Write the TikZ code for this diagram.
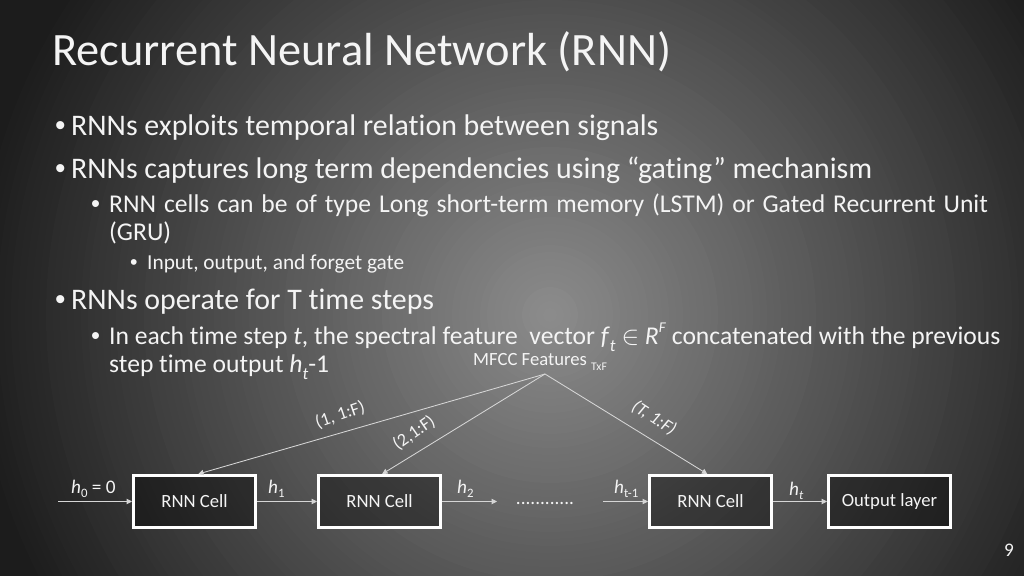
\documentclass[tikz,border=0pt]{standalone}
\usepackage{fontspec}
\setmainfont{Carlito}[Ligatures=NoCommon]
\newfontfamily\arialfont{Liberation Sans}
\usetikzlibrary{arrows.meta}
\definecolor{bgc}{HTML}{8C8C8C}
\definecolor{bge}{HTML}{1C1C1C}
\definecolor{txt}{HTML}{F4F4F4}
\definecolor{conn}{HTML}{D6D6D6}
\tikzset{
  bodytext/.style={anchor=base west, text=txt, inner sep=0pt},
  bul/.style={anchor=base west, text=txt, inner sep=0pt},
  cell/.style={draw=white, line width=2.8pt, fill=black, fill opacity=0.4, text opacity=1, text=txt,
    minimum width=114.4pt, minimum height=48.75pt, inner sep=0pt, font=\fontsize{17.5}{19}\selectfont},
  conn/.style={draw=conn, line width=0.8pt, -{Triangle[length=5pt,width=5pt]}},
  lbl/.style={text=txt, inner sep=0pt, font=\fontsize{18}{20}\selectfont},
  flbl/.style={text=txt, inner sep=0pt, font=\fontsize{17}{19}\selectfont},
}
\begin{document}
\begin{tikzpicture}[x=0.9375pt, y=-0.9375pt]
\useasboundingbox (0,0) rectangle (1024,576);
\begin{scope}
\clip (0,0) rectangle (1024,576);
\fill[bge] (0,0) rectangle (1024,576);
\foreach \i in {0,...,99} {
  \pgfmathsetmacro\r{700-7*\i}
  \pgfmathtruncatemacro\p{min(100,100*(\r/580))}
  \fill[color=bge!\p!bgc] (550,315) circle[radius=\r*0.9375pt];
}
\end{scope}
% title
\node[bodytext, font=\fontsize{43.5}{48}\selectfont] (title) at (52,66) {Recurrent Neural Network (RNN)};
% bullets
\node[bul, font=\arialfont\fontsize{28}{30}\selectfont] (b1d) at (55,136) {•};
\node[bodytext, font=\fontsize{28}{30}\selectfont] (b1) at (71,136) {RNNs exploits temporal relation between signals};
\node[bul, font=\arialfont\fontsize{28}{30}\selectfont] (b2d) at (55,178) {•};
\node[bodytext, font=\fontsize{28}{30}\selectfont] (b2) at (71,178) {RNNs captures long term dependencies using “gating” mechanism};
\node[bul, font=\arialfont\fontsize{24}{26}\selectfont] (b21d) at (91,212) {•};
\node[bodytext, font=\fontsize{24}{26}\selectfont] (b21) at (109,212) {\spaceskip=7.4pt RNN cells can be of type Long short-term memory (LSTM) or Gated Recurrent Unit};
\node[bodytext, font=\fontsize{24}{26}\selectfont] (b21b) at (109,240) {(GRU)};
\node[bul, font=\arialfont\fontsize{20}{22}\selectfont] (b211d) at (130,269) {•};
\node[bodytext, font=\fontsize{20}{22}\selectfont] (b211) at (147,269) {Input, output, and forget gate};
\node[bul, font=\arialfont\fontsize{28}{30}\selectfont] (b3d) at (55,309) {•};
\node[bodytext, font=\fontsize{28}{30}\selectfont] (b3) at (71,309) {RNNs operate for T time steps};
\node[bul, font=\arialfont\fontsize{24}{26}\selectfont] (b31d) at (91,344) {•};
\node[bodytext, font=\fontsize{24}{26}\selectfont] (b31) at (109,344) {In each time step \textit{t}, the spectral feature\ \ vector \textit{f}\raisebox{-0.28em}{\fontsize{16}{16}\selectfont\textit{t}} $\in$ \textit{R}\raisebox{0.45em}{\fontsize{14}{14}\selectfont\textit{F}} concatenated with the previous};
\node[bodytext, font=\fontsize{24}{26}\selectfont] (b31b) at (109,372) {step time output \textit{h}\raisebox{-0.28em}{\fontsize{16}{16}\selectfont\textit{t}}-1};
% diagram
\node[bodytext, font=\fontsize{17.5}{19}\selectfont] (mfcc) at (473,365) {MFCC Features \raisebox{-0.3em}{\fontsize{11}{11}\selectfont TxF}};
\coordinate (apex) at (545,374);
\node[cell] (c1) at (194.5,501.5) {RNN Cell};
\node[cell] (c2) at (379.5,501.5) {RNN Cell};
\node[cell] (c3) at (710.5,501.5) {RNN Cell};
\node[cell] (out) at (889.5,501.5) {Output layer};
\draw[conn] (apex) -- ([xshift=3.5pt]c1.north);
\draw[conn] (apex) -- ([xshift=2.5pt]c2.north);
\draw[conn] (apex) -- ([xshift=-3pt]c3.north);
\node[flbl, rotate=19] (l1) at (340,415) {(1, 1:F)};
\node[flbl, rotate=35] (l2) at (414,433) {(2,1:F)};
\node[flbl, rotate=-33] (l3) at (654,418) {\textit{(T, 1:F)}};
\coordinate (h0s) at (58,501.5);
\coordinate (h2e) at (497,501.5);
\coordinate (hts) at (603,501.5);
\draw[conn] (h0s) -- (c1.west);
\draw[conn] (c1.east) -- (c2.west);
\draw[conn] (c2.east) -- (h2e);
\draw[conn] (hts) -- (c3.west);
\draw[conn] (c3.east) -- (out.west);
\node[lbl, anchor=base west] (h0) at (71,493) {\textit{h}\raisebox{-0.25em}{\fontsize{12}{12}\selectfont 0} = 0};
\node[lbl, anchor=base west] (h1) at (268,493) {\textit{h}\raisebox{-0.25em}{\fontsize{12}{12}\selectfont 1}};
\node[lbl, anchor=base west] (h2) at (457,493) {\textit{h}\raisebox{-0.25em}{\fontsize{12}{12}\selectfont 2}};
\node[lbl, anchor=base west] (htm) at (614,493) {\textit{h}\raisebox{-0.25em}{\fontsize{12}{12}\selectfont t-1}};
\node[lbl, anchor=base west] (ht) at (789,495) {\textit{h}\raisebox{-0.25em}{\fontsize{12}{12}\selectfont\textit{t}}};
\node[lbl, anchor=base] (dots) at (545,504) {............};
% page number
\node[bodytext, font=\fontsize{18}{20}\selectfont] (pg) at (1004,556) {9};
\end{tikzpicture}
\end{document}
